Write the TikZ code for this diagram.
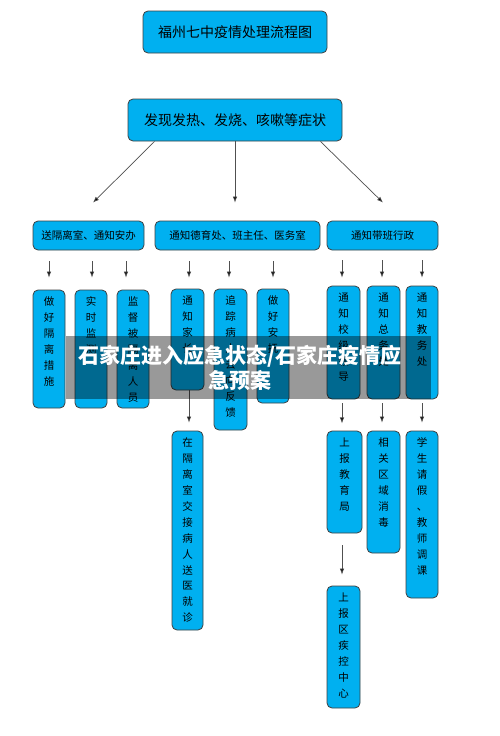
\documentclass[tikz,border=0pt]{standalone}
\usepackage{fontspec}
\newfontfamily\cjk{Noto Sans CJK SC}
\usetikzlibrary{arrows.meta,calc}
\definecolor{boxfill}{HTML}{00B0F0}
\definecolor{boxline}{HTML}{404040}
\definecolor{arrline}{HTML}{505050}
\newcommand\vcol[3]{\parbox[c][#2pt][t]{#1pt}{\centering\vspace*{7pt}#3\par}}
\begin{document}
\begin{tikzpicture}[x=1pt,y=-1pt,
  box/.style={draw=boxline, fill=boxfill, line width=0.8pt, rounded corners=5pt, inner sep=0pt, text=black, font=\cjk\fontsize{10.5}{15.9}\selectfont},
  bigbox/.style={box, minimum height=42pt, font=\cjk\fontsize{14}{16}\selectfont},
  midbox/.style={box, minimum height=29pt},
  arr/.style={draw=arrline, line width=0.7pt, -{Latex[length=6pt,width=4.5pt,fill=black]}}]
\useasboundingbox (0,0) rectangle (500,736);
\fill[white] (0,0) rectangle (500,736);

% top boxes
\node[bigbox, minimum width=184pt] (title) at (235,32) {福州七中疫情处理流程图};
\node[bigbox, minimum width=214pt] (sym) at (235,120) {发现发热、发烧、咳嗽等症状};

% second row
\node[midbox, minimum width=111pt] (A) at (88.5,235.5) {送隔离室、通知安办};
\node[midbox, minimum width=165pt] (B) at (237.5,235.5) {通知德育处、班主任、医务室};
\node[midbox, minimum width=111pt] (C) at (382.5,235.5) {通知带班行政};

% third row
\node[box] (a) at (49,349) {\vcol{32}{118}{做\\好\\隔\\离\\措\\施}};
\node[box] (b) at (91,349) {\vcol{32}{118}{实\\时\\监\\测}};
\node[box] (c) at (133,349) {\vcol{32}{118}{监\\督\\被\\隔\\离\\人\\员}};
\node[box] (d) at (187.5,339.5) {\vcol{33}{101}{通\\知\\家\\长}};
\node[box] (e) at (230.5,359.5) {\vcol{33}{141}{追\\踪\\病\\人\\去\\向\\反\\馈}};
\node[box] (f) at (273,346) {\vcol{32}{114}{做\\好\\安\\抚}};
\node[box] (g) at (343.5,342.5) {\vcol{33}{113}{通\\知\\校\\级\\领\\导}};
\node[box] (h) at (383.5,342.5) {\vcol{33}{113}{通\\知\\总\\务\\处}};
\node[box] (i) at (422,342.5) {\vcol{32}{113}{通\\知\\教\\务\\处}};

% fourth row
\node[box] (n) at (187.5,530.5) {\vcol{31}{199}{在\\隔\\离\\室\\交\\接\\病\\人\\送\\医\\就\\诊}};
\node[box] (j) at (344.5,482) {\vcol{35}{102}{上\\报\\教\\育\\局}};
\node[box] (k) at (383.5,492) {\vcol{33}{122}{相\\关\\区\\域\\消\\毒}};
\node[box] (l) at (422,514.5) {\vcol{32}{167}{学\\生\\请\\假\\、\\教\\师\\调\\课}};
\node[box] (m) at (343.5,647) {\vcol{33}{122}{上\\报\\区\\疾\\控\\中\\心}};

% arrows from symptoms
\coordinate (Bt) at ($(B.north)+(0,-18)$);
\draw[arr] ([xshift=27pt]sym.south west) -- ([xshift=4.5pt,yshift=18pt]A.north);
\draw[arr] (sym.south) -- (sym.south |- Bt);
\draw[arr] ([xshift=-22pt]sym.south east) -- ([xshift=0.5pt,yshift=18pt]C.north);

% arrows row 2 -> row 3
\draw[arr] ($(a.north |- A.south)+(0,11)$) -- ($(a.north)+(0,-12)$);
\draw[arr] ($(b.north |- A.south)+(1,11)$) -- ($(b.north)+(1,-12)$);
\draw[arr] ($(c.north |- A.south)+(-7,11)$) -- ($(c.north)+(-7,-12)$);
\draw[arr] ($(d.north |- B.south)+(1.5,11)$) -- ($(d.north)+(1.5,-11)$);
\draw[arr] ($(e.north |- B.south)+(-1.5,11)$) -- ($(e.north)+(-1.5,-11)$);
\draw[arr] ($(f.north |- B.south)+(0,11)$) -- ($(f.north)+(0,-11)$);
\draw[arr] ($(g.north |- C.south)+(-1.5,10)$) -- ($(g.north)+(-1.5,-8)$);
\draw[arr] ($(h.north |- C.south)+(-1.5,10)$) -- ($(h.north)+(-1.5,-8)$);
\draw[arr] ($(i.north |- C.south)+(0,10)$) -- ($(i.north)+(0,-8)$);

% arrows row 3 -> row 4
\draw[arr] ($(d.south)+(1.5,0)$) -- ($(n.north)+(1.5,-8)$);
\draw[arr] ($(g.south)+(-1.5,4)$) -- ($(j.north |- g.south)+(-2.5,24)$);
\draw[arr] ($(h.south)+(-1.5,4)$) -- ($(k.north)+(-1.5,-8)$);
\draw[arr] ($(i.south)+(0,4)$) -- ($(l.north)+(0,-8)$);
\draw[arr] ($(j.south)+(-2.5,12)$) -- ($(m.north)+(-1.5,-11)$);

% overlay banner
\node[fill=black, fill opacity=0.4, minimum width=365pt, minimum height=63pt, inner sep=0pt] (banner) at (248.5,367.5) {};
\node[text=white, font=\cjk\bfseries\fontsize{21}{25}\selectfont, align=center, inner sep=0pt] (bannertext) at (240,367.5) {石家庄进入应急状态/石家庄疫情应\\急预案};
\end{tikzpicture}
\end{document}
